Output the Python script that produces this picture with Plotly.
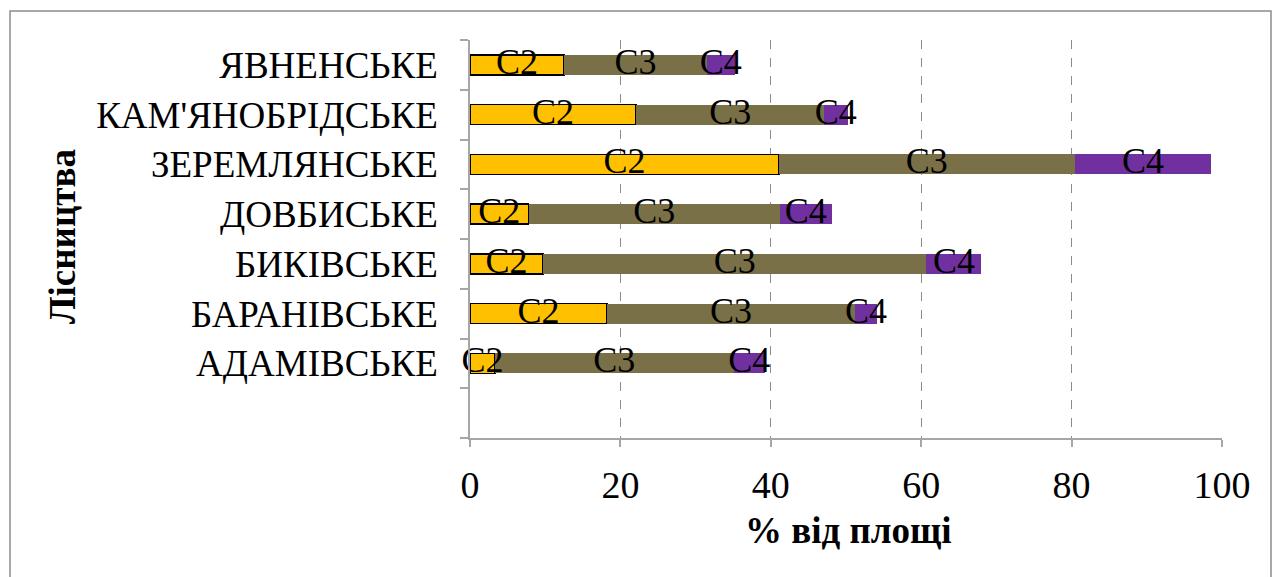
import plotly.graph_objects as go

categories = ["АДАМІВСЬКЕ", "БАРАНІВСЬКЕ", "БИКІВСЬКЕ", "ДОВБИСЬКЕ",
              "ЗЕРЕМЛЯНСЬКЕ", "КАМ'ЯНОБРІДСЬКЕ", "ЯВНЕНСЬКЕ"]
c2 = [3.3, 18.2, 9.7, 7.8, 41.1, 22.1, 12.5]
c3 = [31.8, 33.0, 51.0, 33.4, 39.3, 25.0, 19.0]
c4 = [4.1, 2.9, 7.3, 6.9, 18.2, 3.1, 3.7]
series_names = ["C2", "C3", "C4"]
x_ticks = [0, 20, 40, 60, 80, 100]

FONT = "Liberation Serif"
colors = ["#FFC000", "#7A7048", "#7030A0"]
line_colors = ["#000000", "rgba(0,0,0,0)", "rgba(0,0,0,0)"]
line_widths = [1.5, 0, 0]

ypos = [i + 1 for i in range(len(categories))]  # slot 0 left empty

fig = go.Figure()
series = [c2, c3, c4]
for name, vals, col, lc, lw in zip(series_names, series, colors, line_colors, line_widths):
    fig.add_trace(go.Bar(
        y=ypos, x=vals, name=name, orientation="h",
        marker=dict(color=col, line=dict(color=lc, width=lw)),
        width=0.4, showlegend=False, hoverinfo="skip"))

# centred data labels
base = [0.0] * len(categories)
for name, vals in zip(series_names, series):
    mids = [b + v / 2 for b, v in zip(base, vals)]
    fig.add_trace(go.Scatter(
        x=mids, y=ypos, mode="text", text=[name] * len(vals),
        textfont=dict(family=FONT, size=36, color="black"),
        textposition="middle center", cliponaxis=False,
        showlegend=False, hoverinfo="skip"))
    base = [b + v for b, v in zip(base, vals)]

fig.update_layout(
    barmode="stack",
    width=1272, height=577,
    margin=dict(l=470, r=50, t=40, b=139),
    paper_bgcolor="white", plot_bgcolor="white",
    font=dict(family=FONT, color="black"),
    xaxis=dict(
        range=[0, 100], tickvals=x_ticks, ticktext=[str(t) for t in x_ticks],
        showgrid=True, gridcolor="#8c8c8c", griddash="dash", gridwidth=1.3,
        showline=True, linecolor="#a6a6a6", linewidth=1.5,
        ticks="outside", ticklen=7, tickcolor="#a6a6a6", tickwidth=1.5,
        tickfont=dict(family=FONT, size=38, color="black"),
        ticklabelstandoff=6,
        zeroline=False,
    ),
    yaxis=dict(
        range=[-0.5, 7.5], tickvals=ypos, ticktext=categories,
        ticks="", showgrid=False, zeroline=False,
        showline=True, linecolor="#a6a6a6", linewidth=1.5,
        tickfont=dict(family=FONT, size=37, color="black"),
        ticklabelstandoff=23,
        minor=dict(tickmode="linear", tick0=-0.5, dtick=1, ticks="outside",
                   ticklen=8, tickcolor="#a6a6a6", tickwidth=1.5, showgrid=False),
    ),
    annotations=[
        dict(text="<b>% від площі</b>", xref="paper", yref="paper",
             x=(848 - 470) / 752, y=(438 - 530) / 398, showarrow=False,
             xanchor="center", yanchor="middle",
             font=dict(family=FONT, size=37, color="black")),
        dict(text="<b>Лісництва</b>", xref="paper", yref="paper",
             x=(62 - 470) / 752, y=(438 - 237) / 398, showarrow=False,
             xanchor="center", yanchor="middle", textangle=-90,
             font=dict(family=FONT, size=37, color="black")),
    ],
)

# outer chart border
fig.add_shape(type="rect", xref="paper", yref="paper",
              x0=(10 - 470) / 752, x1=(1271 - 470) / 752,
              y0=(438 - 590) / 398, y1=(438 - 11) / 398,
              line=dict(color="#8c8c8c", width=1.5), layer="below")

fig.write_html("out.html")
